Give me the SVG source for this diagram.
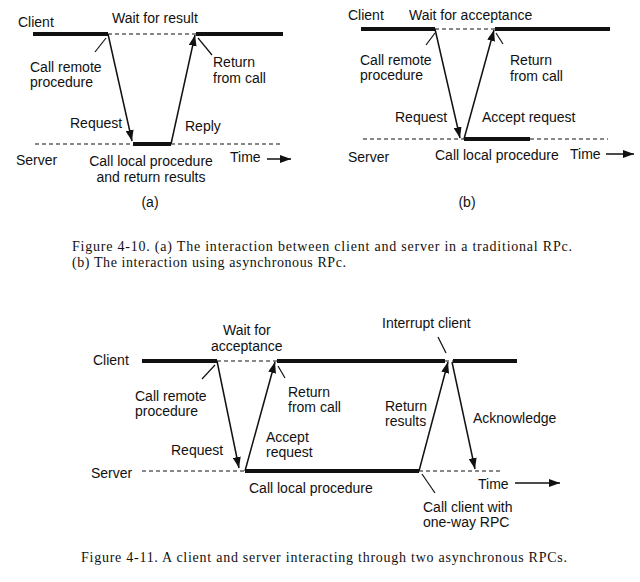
<svg xmlns="http://www.w3.org/2000/svg" width="640" height="582" viewBox="0 0 640 582">
<style>
.lbl{font-family:"Liberation Sans",Arial,sans-serif;font-size:14px;fill:#111}
.cap{font-family:"Liberation Serif","Times New Roman",serif;font-size:14px;fill:#111}
.thick{stroke:#111;stroke-width:4;fill:none}
.dash{stroke:#111;stroke-width:1.2;stroke-dasharray:4 3;fill:none}
.arr{stroke:#111;stroke-width:1.5;fill:none;marker-end:url(#ah)}
.ptr{stroke:#111;stroke-width:1.2;fill:none}
</style>
<defs>
<marker id="ah" markerUnits="userSpaceOnUse" markerWidth="11" markerHeight="8" refX="11" refY="4" orient="auto">
<path d="M0,0 L11,4 L0,8 z" fill="#111"/>
</marker>
</defs>
<rect width="640" height="582" fill="#fff"/>

<!-- Diagram (a) -->
<g id="a-client-line">
<line class="thick" x1="33" y1="34" x2="108" y2="34"/>
<line class="dash" x1="108" y1="34" x2="196" y2="34"/>
<line class="thick" x1="196" y1="34" x2="283" y2="34"/>
</g>
<g id="a-server-line">
<line class="dash" x1="35" y1="144" x2="133" y2="144"/>
<line class="thick" x1="133" y1="144" x2="171" y2="144"/>
<line class="dash" x1="171" y1="144" x2="283" y2="144"/>
</g>
<g id="a-labels">
<text class="lbl" x="18" y="27">Client</text>
<text class="lbl" x="112" y="23">Wait for result</text>
<text class="lbl" x="30" y="72">Call remote</text>
<text class="lbl" x="30" y="87">procedure</text>
<text class="lbl" x="213" y="67">Return</text>
<text class="lbl" x="213" y="83">from call</text>
<text class="lbl" x="70" y="128">Request</text>
<text class="lbl" x="185" y="131">Reply</text>
<text class="lbl" x="16" y="165">Server</text>
<text class="lbl" x="151" y="166" text-anchor="middle">Call local procedure</text>
<text class="lbl" x="151" y="182" text-anchor="middle">and return results</text>
<text class="lbl" x="230" y="162">Time</text>
<text class="lbl" x="150" y="207" text-anchor="middle">(a)</text>
</g>

<!-- Diagram (b) -->
<g id="b-client-line">
<line class="thick" x1="361" y1="29" x2="435" y2="29"/>
<line class="dash" x1="435" y1="29" x2="495" y2="29"/>
<line class="thick" x1="495" y1="29" x2="610" y2="29"/>
</g>
<g id="b-server-line">
<line class="dash" x1="363" y1="139" x2="464" y2="139"/>
<line class="thick" x1="464" y1="139" x2="530" y2="139"/>
<line class="dash" x1="530" y1="139" x2="608" y2="139"/>
</g>
<g id="b-labels">
<text class="lbl" x="348" y="20">Client</text>
<text class="lbl" x="409" y="20">Wait for acceptance</text>
<text class="lbl" x="360" y="65">Call remote</text>
<text class="lbl" x="360" y="80">procedure</text>
<text class="lbl" x="510" y="65">Return</text>
<text class="lbl" x="510" y="81">from call</text>
<text class="lbl" x="395" y="122">Request</text>
<text class="lbl" x="482" y="122">Accept request</text>
<text class="lbl" x="348" y="162">Server</text>
<text class="lbl" x="435" y="160">Call local procedure</text>
<text class="lbl" x="570" y="159">Time</text>
<text class="lbl" x="467" y="207" text-anchor="middle">(b)</text>
</g>

<g id="caption-4-10">
<text class="cap" x="72" y="251" textLength="500" lengthAdjust="spacing">Figure  4-10.  (a) The interaction  between  client and server in a traditional  RPc.</text>
<text class="cap" x="72" y="267" textLength="274" lengthAdjust="spacing">(b) The interaction  using asynchronous  RPc.</text>
</g>

<!-- Figure 4-11 -->
<g id="c-client-line">
<line class="thick" x1="142" y1="361" x2="217" y2="361"/>
<line class="dash" x1="217" y1="361" x2="277" y2="361"/>
<line class="thick" x1="277" y1="361" x2="445" y2="361"/>
<line class="dash" x1="445" y1="361" x2="453" y2="361" stroke-dasharray="2 2"/>
<line class="thick" x1="453" y1="361" x2="517" y2="361"/>
</g>
<g id="c-server-line">
<line class="dash" x1="142" y1="471" x2="245" y2="471"/>
<line class="thick" x1="245" y1="471" x2="419" y2="471"/>
<line class="dash" x1="419" y1="471" x2="502" y2="471"/>
</g>
<g id="c-labels">
<text class="lbl" x="93" y="365">Client</text>
<text class="lbl" x="223" y="335">Wait for</text>
<text class="lbl" x="211" y="351">acceptance</text>
<text class="lbl" x="135" y="401">Call remote</text>
<text class="lbl" x="135" y="416">procedure</text>
<text class="lbl" x="288" y="397">Return</text>
<text class="lbl" x="288" y="412">from call</text>
<text class="lbl" x="171" y="455">Request</text>
<text class="lbl" x="266" y="442">Accept</text>
<text class="lbl" x="266" y="457">request</text>
<text class="lbl" x="91" y="478">Server</text>
<text class="lbl" x="249" y="493">Call local procedure</text>
<text class="lbl" x="382" y="328">Interrupt client</text>
<text class="lbl" x="385" y="411">Return</text>
<text class="lbl" x="385" y="426">results</text>
<text class="lbl" x="473" y="423">Acknowledge</text>
<text class="lbl" x="478" y="489">Time</text>
<text class="lbl" x="423" y="512">Call client with</text>
<text class="lbl" x="423" y="527">one-way RPC</text>
</g>

<g id="caption-4-11">
<text class="cap" x="81" y="562" textLength="486" lengthAdjust="spacing">Figure  4-11.  A client and server interacting  through  two asynchronous  RPCs.</text>
</g>

<g id="connectors">
<line class="arr" x1="108" y1="34" x2="132" y2="141"/>
<line class="arr" x1="171" y1="144" x2="195" y2="35"/>
<line class="ptr" x1="106" y1="38" x2="95" y2="52"/>
<line class="ptr" x1="198" y1="38" x2="212" y2="55"/>
<line class="arr" x1="267" y1="159" x2="291" y2="159"/>

<line class="arr" x1="435" y1="29" x2="460" y2="138"/>
<line class="arr" x1="464" y1="139" x2="494" y2="30"/>
<line class="ptr" x1="435" y1="33" x2="426" y2="45"/>
<line class="ptr" x1="496" y1="33" x2="503" y2="44"/>
<line class="arr" x1="606" y1="154" x2="634" y2="154"/>

<line class="arr" x1="217" y1="361" x2="239" y2="468"/>
<line class="arr" x1="245" y1="471" x2="275" y2="362"/>
<line class="ptr" x1="215" y1="365" x2="202" y2="379"/>
<line class="ptr" x1="278" y1="366" x2="285" y2="378"/>
<line class="ptr" x1="438" y1="337" x2="446" y2="353"/>
<line class="arr" x1="419" y1="471" x2="448" y2="362"/>
<line class="arr" x1="452" y1="362" x2="475" y2="469"/>
<line class="ptr" x1="422" y1="474" x2="435" y2="493"/>
<line class="arr" x1="515" y1="483" x2="560" y2="483"/>
</g>
</svg>
